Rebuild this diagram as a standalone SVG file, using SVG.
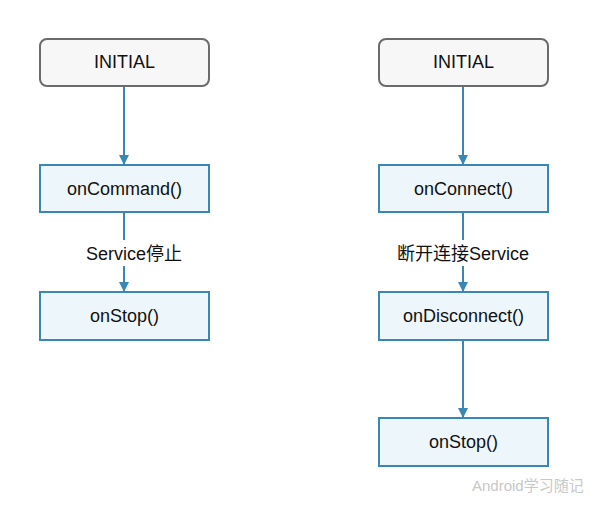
<svg xmlns="http://www.w3.org/2000/svg" width="599" height="509" viewBox="0 0 599 509">
<defs>
<marker id="ah" markerWidth="10" markerHeight="10" refX="9" refY="5" orient="auto" markerUnits="userSpaceOnUse">
<path d="M0,0 L10,5 L0,10 Z" fill="#3a86b4"/>
</marker>
<style>
.init{fill:#f7f7f7;stroke:#6b6b6b;stroke-width:2}
.box{fill:#edf6fa;stroke:#3a86b4;stroke-width:2}
.t{font-family:"Liberation Sans","Noto Sans CJK SC",sans-serif;font-size:18px;fill:#111;text-anchor:middle;dominant-baseline:central}
.c{stroke:#3a86b4;stroke-width:2;fill:none}
.wm{font-family:"Liberation Sans","Noto Sans CJK SC",sans-serif;font-size:15px;fill:#c8c8c8}
</style>
</defs>
<rect width="599" height="509" fill="#fff"/>
<g id="connectors">
<line class="c" x1="124" y1="86" x2="124" y2="164" marker-end="url(#ah)"/>
<line class="c" x1="124" y1="212" x2="124" y2="240"/>
<line class="c" x1="124" y1="266" x2="124" y2="291" marker-end="url(#ah)"/>
<line class="c" x1="463" y1="86" x2="463" y2="164" marker-end="url(#ah)"/>
<line class="c" x1="463" y1="212" x2="463" y2="240"/>
<line class="c" x1="463" y1="266" x2="463" y2="291" marker-end="url(#ah)"/>
<line class="c" x1="463" y1="340" x2="463" y2="417" marker-end="url(#ah)"/>
<text class="t" x="134" y="254">Service停止</text>
<text class="t" x="463" y="254">断开连接Service</text>
</g>
<g id="init-left"><rect class="init" x="40" y="39" width="169" height="47" rx="7"/><text class="t" x="124.5" y="62">INITIAL</text></g>
<g id="oncommand"><rect class="box" x="40" y="165" width="169" height="47"/><text class="t" x="124.5" y="189">onCommand()</text></g>
<g id="onstop-left"><rect class="box" x="40" y="292" width="169" height="48"/><text class="t" x="124.5" y="316">onStop()</text></g>
<g id="init-right"><rect class="init" x="379" y="39" width="169" height="47" rx="7"/><text class="t" x="463.5" y="62">INITIAL</text></g>
<g id="onconnect"><rect class="box" x="379" y="165" width="169" height="47"/><text class="t" x="463.5" y="189">onConnect()</text></g>
<g id="ondisconnect"><rect class="box" x="379" y="292" width="169" height="48"/><text class="t" x="463.5" y="316">onDisconnect()</text></g>
<g id="onstop-right"><rect class="box" x="379" y="418" width="169" height="48"/><text class="t" x="463.5" y="442">onStop()</text></g>
<text class="wm" x="472" y="491">Android学习随记</text>
</svg>
